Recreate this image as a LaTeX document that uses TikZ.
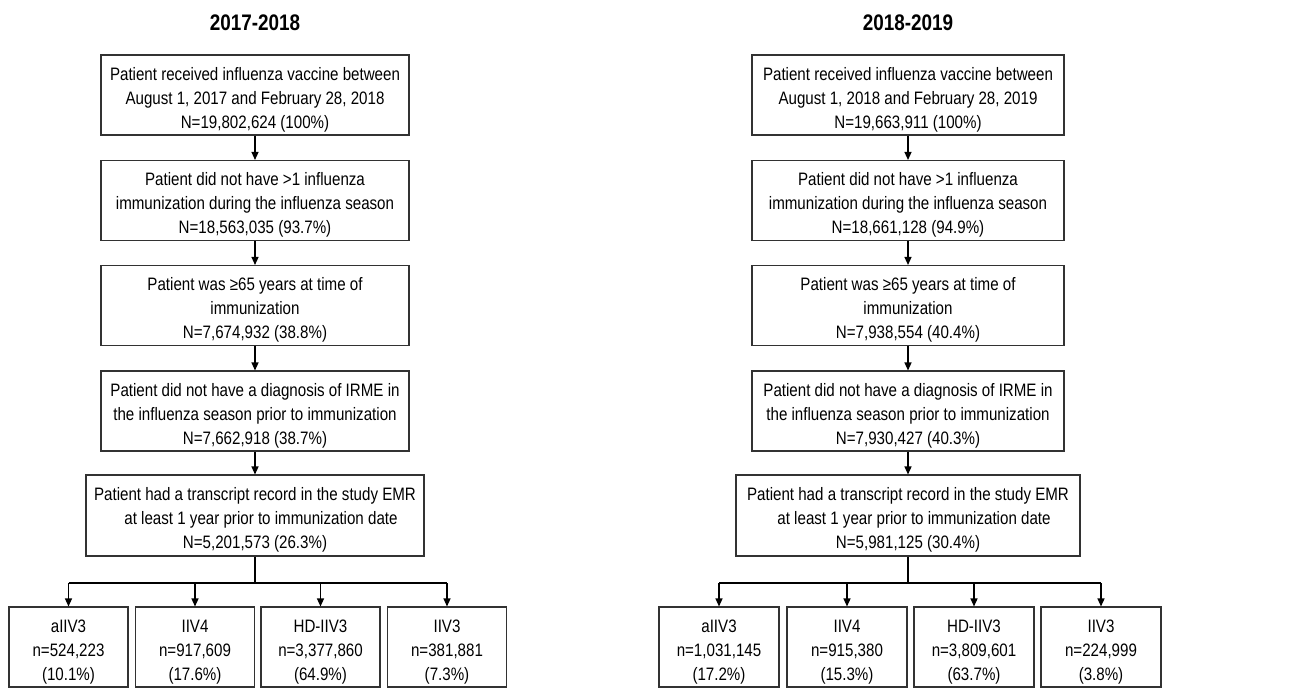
\documentclass[tikz,border=0pt]{standalone}
\usepackage{fontspec}
\setmainfont{Liberation Sans}[FakeStretch=0.84]
\usetikzlibrary{arrows.meta}
\definecolor{boxline}{RGB}{50,50,50}
\newcommand{\boxlift}{\rule{0pt}{22pt}}
\tikzset{
  chart/.style={x=1pt,y=-1pt,font=\fontsize{18}{24}\selectfont},
  stepbox/.style={draw=boxline,line width=1.1pt,align=center,inner sep=0pt,minimum height=80pt},
  vaxbox/.style={stepbox,minimum width=119pt},
  season/.style={font=\fontsize{22.5}{26}\selectfont\bfseries},
  flow/.style={line width=1.3pt,-{Triangle[length=8pt,width=7pt]}},
  bus/.style={line width=2pt}
}

\begin{document}
\begin{tikzpicture}[chart]
    \useasboundingbox (0,0) rectangle (1292,688);
    \def\lx{255}\def\rx{908}
    % 2017-2018 column
    \node[season] (tl) at (\lx,23) {2017-2018};
    \node[stepbox,minimum width=308pt] (la) at (\lx,95)
      {\boxlift Patient received influenza vaccine between\\August 1, 2017 and February 28, 2018\\N=19,802,624 (100\%)};
    \node[stepbox,minimum width=308pt] (lb) at (\lx,200.5)
      {\boxlift Patient did not have >1 influenza\\immunization during the influenza season\\N=18,563,035 (93.7\%)};
    \node[stepbox,minimum width=308pt] (lc) at (\lx,305.5)
      {\boxlift Patient was ≥65 years at time of\\immunization\\N=7,674,932 (38.8\%)};
    \node[stepbox,minimum width=308pt] (ld) at (\lx,411)
      {\boxlift Patient did not have a diagnosis of IRME in\\the influenza season prior to immunization\\N=7,662,918 (38.7\%)};
    \node[stepbox,minimum width=338pt,minimum height=81pt] (le) at (\lx,515.5)
      {\boxlift Patient had a transcript record in the study EMR\\\hspace*{12pt}at least 1 year prior to immunization date\\N=5,201,573 (26.3\%)};
    \node[vaxbox] (lv1) at (68.5,647) {\boxlift aIIV3\\n=524,223\\(10.1\%)};
    \node[vaxbox] (lv2) at (195,647) {\boxlift IIV4\\n=917,609\\(17.6\%)};
    \node[vaxbox] (lv3) at (320.5,647) {\boxlift HD-IIV3\\n=3,377,860\\(64.9\%)};
    \node[vaxbox] (lv4) at (447,647) {\boxlift IIV3\\n=381,881\\(7.3\%)};
    \coordinate (ls) at (\lx,583); % split point
    \draw[flow] (la) -- (lb);
    \draw[flow] (lb) -- (lc);
    \draw[flow] (lc) -- (ld);
    \draw[flow] (ld) -- (le);
    \draw[bus] (le.south) -- (ls);
    \draw[bus] (lv1.north |- ls) -- (lv4.north |- ls);
    \foreach \v in {lv1,lv2,lv3,lv4} \draw[flow] (\v.north |- ls) -- (\v.north);
    % 2018-2019 column
    \node[season] (tr) at (\rx,23) {2018-2019};
    \node[stepbox,minimum width=312pt] (ra) at (\rx,95)
      {\boxlift Patient received influenza vaccine between\\August 1, 2018 and February 28, 2019\\N=19,663,911 (100\%)};
    \node[stepbox,minimum width=312pt] (rb) at (\rx,200.5)
      {\boxlift Patient did not have >1 influenza\\immunization during the influenza season\\N=18,661,128 (94.9\%)};
    \node[stepbox,minimum width=312pt] (rc) at (\rx,305.5)
      {\boxlift Patient was ≥65 years at time of\\immunization\\N=7,938,554 (40.4\%)};
    \node[stepbox,minimum width=312pt] (rd) at (\rx,411)
      {\boxlift Patient did not have a diagnosis of IRME in\\the influenza season prior to immunization\\N=7,930,427 (40.3\%)};
    \node[stepbox,minimum width=344pt,minimum height=81pt] (re) at (\rx,515.5)
      {\boxlift Patient had a transcript record in the study EMR\\\hspace*{12pt}at least 1 year prior to immunization date\\N=5,981,125 (30.4\%)};
    \node[vaxbox,minimum width=120pt] (rv1) at (719,647) {\boxlift aIIV3\\n=1,031,145\\(17.2\%)};
    \node[vaxbox,minimum width=120pt] (rv2) at (847,647) {\boxlift IIV4\\n=915,380\\(15.3\%)};
    \node[vaxbox,minimum width=120pt] (rv3) at (974,647) {\boxlift HD-IIV3\\n=3,809,601\\(63.7\%)};
    \node[vaxbox,minimum width=120pt] (rv4) at (1101,647) {\boxlift IIV3\\n=224,999\\(3.8\%)};
    \coordinate (rs) at (\rx,583); % split point
    \draw[flow] (ra) -- (rb);
    \draw[flow] (rb) -- (rc);
    \draw[flow] (rc) -- (rd);
    \draw[flow] (rd) -- (re);
    \draw[bus] (re.south) -- (rs);
    \draw[bus] (rv1.north |- rs) -- (rv4.north |- rs);
    \foreach \v in {rv1,rv2,rv3,rv4} \draw[flow] (\v.north |- rs) -- (\v.north);
\end{tikzpicture}
\end{document}
